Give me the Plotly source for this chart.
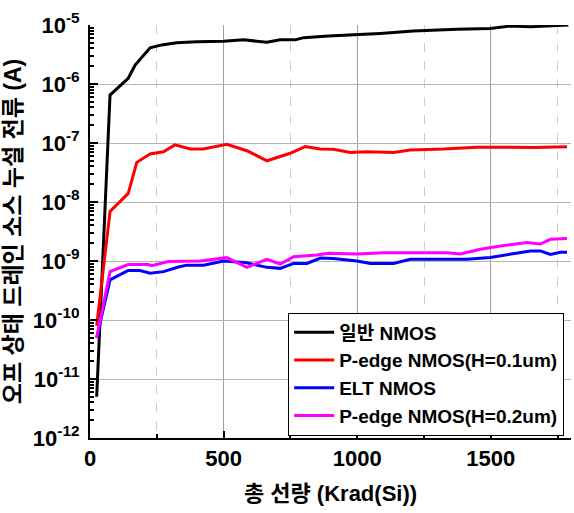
import plotly.graph_objects as go

# ---- data ----
black_x = [25, 75, 143, 169, 225, 268, 325, 400, 500, 575, 662, 712, 768, 800, 891, 1000, 1086, 1210, 1373, 1498, 1573, 1648, 1760, 1790]
black_y = [5e-12, 6.5e-7, 1.25e-6, 2.1e-6, 4.1e-6, 4.6e-6, 5.0e-6, 5.2e-6, 5.3e-6, 5.6e-6, 5.1e-6, 5.6e-6, 5.6e-6, 6.1e-6, 6.5e-6, 6.8e-6, 7.2e-6, 7.9e-6, 8.5e-6, 8.7e-6, 9.6e-6, 9.3e-6, 1.0e-5, 1.0e-5]

red_x = [25, 75, 143, 175, 225, 275, 318, 375, 424, 512, 587, 662, 749, 805, 861, 911, 974, 1036, 1136, 1198, 1323, 1448, 1536, 1661, 1785]
red_y = [8e-11, 6.9e-9, 1.4e-8, 4.7e-8, 6.5e-8, 7.1e-8, 9.3e-8, 7.9e-8, 7.9e-8, 9.5e-8, 7.4e-8, 5.0e-8, 6.7e-8, 8.7e-8, 7.9e-8, 7.8e-8, 6.9e-8, 7.1e-8, 6.9e-8, 7.6e-8, 7.9e-8, 8.5e-8, 8.5e-8, 8.4e-8, 8.6e-8]

blue_x = [25, 75, 143, 187, 225, 275, 331, 362, 425, 500, 587, 662, 712, 762, 812, 862, 911, 999, 1049, 1136, 1199, 1411, 1498, 1561, 1648, 1685, 1723, 1760, 1785]
blue_y = [5e-11, 4.8e-10, 6.9e-10, 6.9e-10, 6.2e-10, 6.6e-10, 7.9e-10, 8.5e-10, 8.5e-10, 1.0e-9, 9.3e-10, 7.8e-10, 7.5e-10, 9.1e-10, 9.1e-10, 1.12e-9, 1.1e-9, 1.0e-9, 9.1e-10, 9.1e-10, 1.07e-9, 1.07e-9, 1.15e-9, 1.29e-9, 1.48e-9, 1.48e-9, 1.29e-9, 1.41e-9, 1.41e-9]

mag_x = [25, 75, 143, 218, 231, 262, 293, 412, 512, 587, 662, 712, 762, 849, 893, 999, 1099, 1336, 1386, 1461, 1536, 1636, 1685, 1723, 1785]
mag_y = [5e-11, 6.6e-10, 8.7e-10, 8.7e-10, 8.3e-10, 9.0e-10, 9.8e-10, 1.0e-9, 1.14e-9, 7.8e-10, 1.07e-9, 8.9e-10, 1.18e-9, 1.26e-9, 1.35e-9, 1.32e-9, 1.38e-9, 1.38e-9, 1.32e-9, 1.58e-9, 1.8e-9, 2.05e-9, 1.94e-9, 2.33e-9, 2.4e-9]

series_names = ["일반 NMOS", "P-edge NMOS(H=0.1um)", "ELT NMOS", "P-edge NMOS(H=0.2um)"]
series_colors = ["#000000", "#ff0000", "#0000ff", "#ff00ff"]

y_tick_vals = [1e-12, 1e-11, 1e-10, 1e-9, 1e-8, 1e-7, 1e-6, 1e-5]
y_tick_text = ["10<sup>-12</sup>", "10<sup>-11</sup>", "10<sup>-10</sup>", "10<sup>-9</sup>",
               "10<sup>-8</sup>", "10<sup>-7</sup>", "10<sup>-6</sup>", "10<sup>-5</sup>"]
x_tick_vals = [0, 500, 1000, 1500]

FONT = "Liberation Sans, Arial, Noto Sans CJK KR, sans-serif"

fig = go.Figure()
for xs, ys, name, col in zip([black_x, red_x, blue_x, mag_x],
                             [black_y, red_y, blue_y, mag_y],
                             series_names, series_colors):
    fig.add_trace(go.Scatter(x=xs, y=ys, mode="lines", name=name,
                             line=dict(color=col, width=3), hoverinfo="skip"))

fig.update_layout(
    width=574, height=513,
    margin=dict(l=90, r=3, t=25, b=75),
    paper_bgcolor="white", plot_bgcolor="white",
    font=dict(family=FONT, size=20, color="black", weight="bold"),
    showlegend=True,
    hovermode=False,
    legend=dict(x=0.412, y=0.006, xanchor="left", yanchor="bottom",
                bgcolor="white", bordercolor="black", borderwidth=1,
                font=dict(size=19, family=FONT, weight="bold"),
                tracegroupgap=0, itemwidth=40),
)

fig.update_xaxes(
    range=[0, 1800], tickvals=x_tick_vals, automargin=False,
    showline=True, linecolor="black", linewidth=2, mirror=False,
    ticks="inside", ticklen=7, tickwidth=1.5, tickcolor="black",
    showgrid=True, gridcolor="#a0a0a0", gridwidth=1,
    minor=dict(dtick=250, showgrid=True, gridcolor="#cccccc", griddash="dash",
               ticks="inside", ticklen=4, tickcolor="black"),
    zeroline=False,
    tickfont=dict(size=22, family=FONT, weight="bold"),
    title=dict(text="총 선량 (Krad(Si))", standoff=15,
               font=dict(size=22, family=FONT, weight="bold")),
)

fig.update_yaxes(
    type="log", range=[-12, -5], automargin=False,
    tickvals=y_tick_vals, ticktext=y_tick_text,
    showline=True, linecolor="black", linewidth=2, mirror=False,
    ticks="inside", ticklen=8, tickwidth=1.5, tickcolor="black",
    showgrid=True, gridcolor="#b4b4b4", gridwidth=1,
    minor=dict(dtick="D1", ticks="inside", ticklen=4, tickcolor="black", showgrid=False),
    zeroline=False, ticklabelstandoff=4,
    tickfont=dict(size=22, family=FONT, weight="bold"),
    title=dict(text="오프 상태 드레인 소스 누설 전류 (A)", standoff=5,
               font=dict(size=23, family=FONT, weight="bold")),
)

fig.write_html("out.html",
               config={"displayModeBar": False},
               post_script="document.body.style.margin='0';document.documentElement.style.overflow='hidden';")
